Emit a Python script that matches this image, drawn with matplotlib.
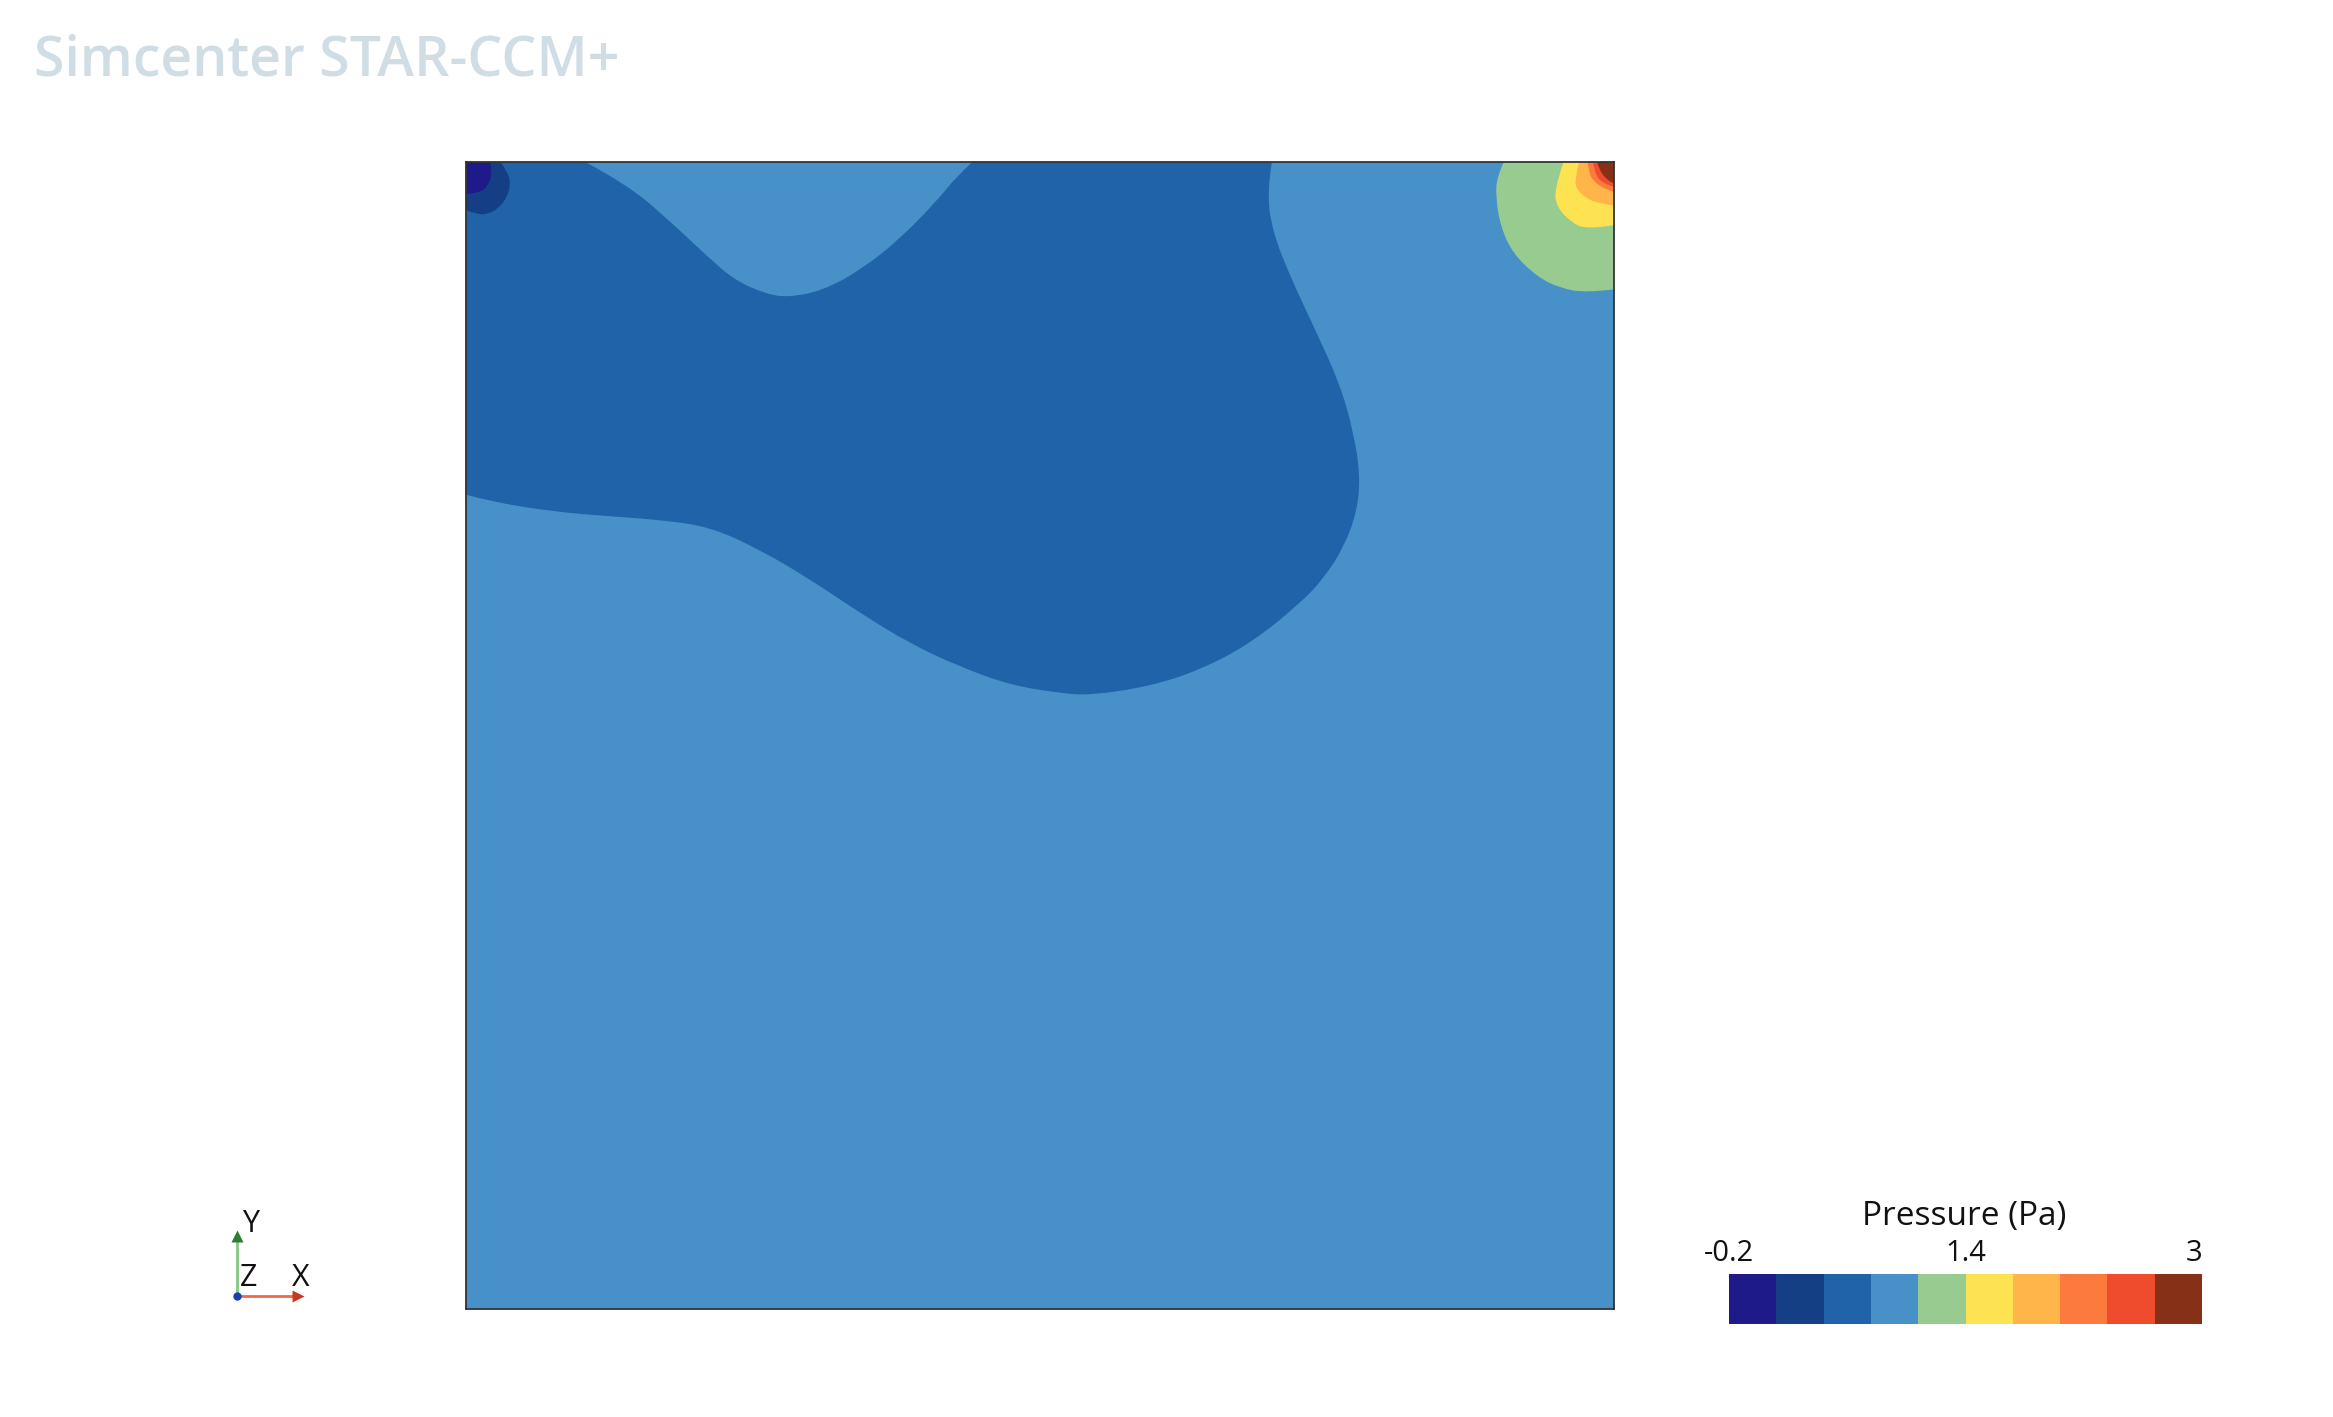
import numpy as np
import matplotlib
matplotlib.use('Agg')
import matplotlib.pyplot as plt
from matplotlib.path import Path
from matplotlib.patches import PathPatch
from matplotlib.colors import ListedColormap, BoundaryNorm
from matplotlib.cm import ScalarMappable
from matplotlib.ticker import NullLocator

plt.rcParams['font.family'] = ['Open Sans', 'DejaVu Sans']

# Pressure bands (Pa) and the colour of each band
levels = [-0.2, 0.12, 0.44, 0.76, 1.08, 1.4, 1.72, 2.04, 2.36, 2.68, 3.0]
band_colors = ['#1f1a8a', '#143f85', '#2063a9', '#4790c8', '#98cb8f',
               '#fde352', '#ffb54a', '#fd7a3f', '#ef4b2d', '#873018']
tick_values = [-0.2, 1.4, 3.0]
tick_labels = ['-0.2', '1.4', '3']

# Contour outlines (x, y in the unit cavity)
dark_blue_edge = [(0.702, 1.0), (0.6975, 0.973), (0.703, 0.938), (0.718, 0.900),
                  (0.741, 0.851), (0.761, 0.807), (0.773, 0.765), (0.779, 0.726),
                  (0.776, 0.695), (0.765, 0.665), (0.748, 0.638), (0.7265, 0.615),
                  (0.683, 0.580), (0.639, 0.557), (0.596, 0.543), (0.544, 0.535),
                  (0.517, 0.537), (0.474, 0.544), (0.430, 0.560), (0.387, 0.580),
                  (0.343, 0.607), (0.300, 0.636), (0.256, 0.662), (0.2125, 0.682),
                  (0.169, 0.688), (0.127, 0.691), (0.077, 0.695), (0.021, 0.704),
                  (0.0, 0.710)]
tongue_edge = [(0.104, 1.0), (0.141, 0.980), (0.177, 0.949), (0.211, 0.917),
               (0.234, 0.897), (0.261, 0.885), (0.281, 0.882), (0.311, 0.888),
               (0.344, 0.906), (0.377, 0.932), (0.411, 0.967), (0.427, 0.987),
               (0.441, 1.0)]
navy_edge = [(0.030, 1.0), (0.036, 0.992), (0.039, 0.981), (0.036, 0.970),
             (0.029, 0.960), (0.018, 0.954), (0.008, 0.955), (0.0, 0.958)]
indigo_edge = [(0.021, 1.0), (0.023, 0.990), (0.019, 0.979), (0.012, 0.973),
               (0.0, 0.972)]
green_edge = [(0.904, 1.0), (0.898, 0.987), (0.897, 0.970), (0.901, 0.944),
              (0.912, 0.920), (0.933, 0.900), (0.953, 0.890), (0.976, 0.886),
              (1.0, 0.889)]
yellow_edge = [(0.956, 1.0), (0.948, 0.976), (0.950, 0.961), (0.962, 0.948),
               (0.976, 0.941), (1.0, 0.945)]
amber_edge = [(0.9695, 1.0), (0.967, 0.988), (0.966, 0.978), (0.976, 0.968),
              (0.987, 0.964), (1.0, 0.962)]
orange_edge = [(0.977, 1.0), (0.978, 0.9915), (0.982, 0.983), (0.9937, 0.9756),
               (1.0, 0.974)]
red_edge = [(0.982, 1.0), (0.983, 0.990), (0.9905, 0.981), (1.0, 0.9785)]
brown_edge = [(0.9855, 1.0), (0.9865, 0.9945), (0.9937, 0.984), (1.0, 0.9814)]

# (outline, band index, cavity corners used to close the outline), drawn in order
regions = [
    (dark_blue_edge, 2, [(0.0, 1.0)]),
    (tongue_edge, 3, []),
    (navy_edge, 1, [(0.0, 1.0)]),
    (indigo_edge, 0, [(0.0, 1.0)]),
    (green_edge, 4, [(1.0, 1.0)]),
    (yellow_edge, 5, [(1.0, 1.0)]),
    (amber_edge, 6, [(1.0, 1.0)]),
    (orange_edge, 7, [(1.0, 1.0)]),
    (red_edge, 8, [(1.0, 1.0)]),
    (brown_edge, 9, [(1.0, 1.0)]),
]


def outline_path(pts, corners):
    # smooth curve through the outline points, closed along the cavity walls
    verts = [pts[0]]
    codes = [Path.MOVETO]
    n = len(pts)
    for i in range(1, n - 1):
        if i == n - 2:
            end = pts[-1]
        else:
            end = ((pts[i][0] + pts[i + 1][0]) / 2, (pts[i][1] + pts[i + 1][1]) / 2)
        verts += [pts[i], end]
        codes += [Path.CURVE3, Path.CURVE3]
    for c in corners:
        verts.append(c)
        codes.append(Path.LINETO)
    verts.append(pts[0])
    codes.append(Path.CLOSEPOLY)
    return Path(verts, codes)


W, H = 2333, 1417
fig = plt.figure(figsize=(W / 100, H / 100), dpi=100)
fig.patch.set_facecolor('white')

ax = fig.add_axes([466 / W, 1 - 1309 / H, 1148 / W, 1147 / H])
ax.set_facecolor(band_colors[3])
for edge, band, corners in regions:
    ax.add_patch(PathPatch(outline_path(edge, corners), facecolor=band_colors[band],
                           edgecolor='none', lw=0))
ax.set_xlim(0, 1)
ax.set_ylim(0, 1)
ax.set_xticks([])
ax.set_yticks([])
for sp in ax.spines.values():
    sp.set_color('#333333')
    sp.set_linewidth(1.3)

# colour bar
cmap = ListedColormap(band_colors)
norm = BoundaryNorm(levels, cmap.N)
cax = fig.add_axes([1729 / W, 1 - 1324 / H, 473 / W, 50 / H])
cb = fig.colorbar(ScalarMappable(norm=norm, cmap=cmap), cax=cax,
                  orientation='horizontal', ticks=tick_values)
cb.outline.set_visible(False)
cax.xaxis.set_ticks_position('top')
cax.xaxis.set_minor_locator(NullLocator())
cax.set_xticklabels(tick_labels)
cax.tick_params(axis='x', which='both', length=0, labelsize=21, pad=4,
                labelcolor='#111111')
cax.get_xticklabels()[-1].set_ha('right')

# overlay in pixel units for title, legend caption and axis triad
ov = fig.add_axes([0, 0, 1, 1], zorder=5)
ov.set_xlim(0, W)
ov.set_ylim(H, 0)
ov.axis('off')
ov.patch.set_alpha(0)

ov.text(34, 75, 'Simcenter STAR-CCM+', fontsize=40, fontweight='semibold',
        color='#d0dde5', va='baseline', ha='left')
ov.text(1964, 1225, 'Pressure (Pa)', fontsize=24, color='#111111',
        va='baseline', ha='center')

ox, oy = 237, 1296
ov.plot([ox, ox], [oy, 1238], color='#82c882', lw=2, solid_capstyle='butt')
ov.plot([ox], [1236], marker='^', ms=9, color='#2e7d32', mec='none')
ov.plot([ox, 296], [oy, oy], color='#ee6a48', lw=2, solid_capstyle='butt')
ov.plot([298], [oy], marker='>', ms=9, color='#c8381e', mec='none')
ov.plot([ox], [oy], marker='o', ms=6, color='#1a3fb0', mec='none')
ov.text(251, 1232, 'Y', fontsize=22, ha='center', va='baseline', color='#111111')
ov.text(249, 1286, 'Z', fontsize=22, ha='center', va='baseline', color='#111111')
ov.text(301, 1286, 'X', fontsize=22, ha='center', va='baseline', color='#111111')

fig.savefig('out.png', dpi=100)
